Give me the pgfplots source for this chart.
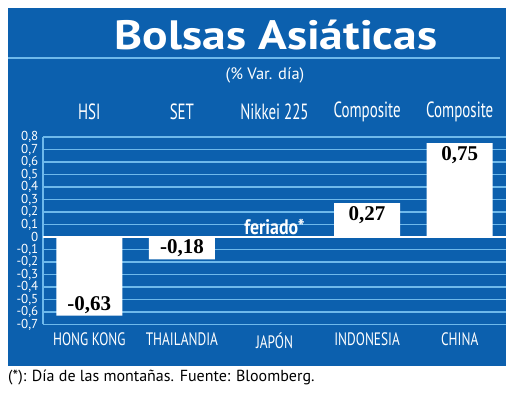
\documentclass[border=0pt]{standalone}
\usepackage{pgfplots}
\pgfplotsset{compat=1.18}
\usepackage{fontspec}
\setmainfont{PT Sans}
\newfontfamily\serifb{Liberation Serif}
\definecolor{panel}{RGB}{12,96,174}
\definecolor{gridc}{RGB}{110,185,235}
\newcommand{\cond}[2][0.78]{\scalebox{#1}[1]{#2}}
\pgfplotstableread{
x y lab
0 -0.63 -0,63
1 -0.18 -0,18
}\negdata
\pgfplotstableread{
x y lab
3 0.27 0,27
4 0.75 0,75
}\posdata
\begin{document}
\begin{tikzpicture}
\fill[white] (0pt,0pt) rectangle (520pt,399pt);
\fill[panel] (8pt,33pt) rectangle (506pt,391pt);
\draw[gridc, line width=1.2pt] (8pt,341pt) -- (500pt,341pt);
\node[white, font=\fontsize{41}{41}\selectfont\bfseries, anchor=base, inner sep=0pt] at (276pt,349pt) {\scalebox{1.16}[1]{Bolsas Asiáticas}};
\node[white, font=\fontsize{16.5}{16.5}\selectfont] at (265pt,324pt) {(\% Var. día)};
\node[black, font=\fontsize{16}{16}\selectfont, anchor=west, inner sep=0pt] at (8pt,21pt) {(*): Día de las montañas. Fuente: Bloomberg.};
\begin{axis}[
  at={(43pt,74.5pt)}, anchor=south west,
  scale only axis, width=463pt, height=187.5pt,
  xmin=-0.5, xmax=4.5, ymin=-0.7, ymax=0.8,
  clip=false,
  axis line style={draw=none},
  major tick length=0pt,
  ymajorgrids, grid style={gridc, line width=1.4pt},
  ytick={-0.7,-0.6,-0.5,-0.4,-0.3,-0.2,-0.1,0,0.1,0.2,0.3,0.4,0.5,0.6,0.7,0.8},
  yticklabels={{-0,7},{-0,6},{-0,5},{-0,4},{-0,3},{-0,2},{-0,1},{0},{0,1},{0,2},{0,3},{0,4},{0,5},{0,6},{0,7},{0,8}},
  yticklabel style={font=\fontsize{13}{13}\selectfont, text=white, inner sep=0.5pt, xshift=-4pt},
  xtick={0,1,2,3,4},
  xticklabels={\cond[0.74]{HONG KONG},\cond[0.74]{THAILANDIA},\cond[0.74]{JAPÓN},\cond[0.74]{INDONESIA},\cond[0.74]{CHINA}},
  xticklabel style={font=\fontsize{18}{18}\selectfont, text=white, yshift=-5pt},
]
\draw[gridc, line width=1.4pt] (axis cs:-0.5,-0.7) -- (axis cs:-0.5,0.8);
\draw[white, line width=2pt] (axis cs:-0.5,0) -- (axis cs:4.5,0);
\addplot[ybar, bar width=66pt, bar shift=0pt, fill=white, draw=none,
  point meta=explicit symbolic, nodes near coords,
  nodes near coords style={font=\serifb\bfseries\fontsize{21}{21}\selectfont, text=black, anchor=center, yshift=11pt}]
  table[x=x, y=y, meta=lab] {\negdata};
\addplot[ybar, bar width=66pt, bar shift=0pt, fill=white, draw=none,
  point meta=explicit symbolic, nodes near coords,
  nodes near coords style={font=\serifb\bfseries\fontsize{21}{21}\selectfont, text=black, anchor=center, yshift=-12pt}]
  table[x=x, y=y, meta=lab] {\posdata};
\node[white, font=\fontsize{22}{22}\selectfont] at (axis cs:0,0.8) [yshift=25pt] {\cond[0.68]{HSI}};
\node[white, font=\fontsize{22}{22}\selectfont] at (axis cs:1,0.8) [yshift=25pt] {\cond[0.68]{SET}};
\node[white, font=\fontsize{22}{22}\selectfont] at (axis cs:2,0.8) [yshift=25pt] {\cond[0.68]{Nikkei 225}};
\node[white, font=\fontsize{22}{22}\selectfont] at (axis cs:3,0.8) [yshift=25pt] {\cond[0.68]{Composite}};
\node[white, font=\fontsize{22}{22}\selectfont] at (axis cs:4,0.8) [yshift=25pt] {\cond[0.68]{Composite}};
\node[white, font=\fontsize{21}{21}\selectfont\bfseries] at (axis cs:2,0.08) {\cond[0.85]{feriado*}};
\end{axis}
\end{tikzpicture}
\end{document}
